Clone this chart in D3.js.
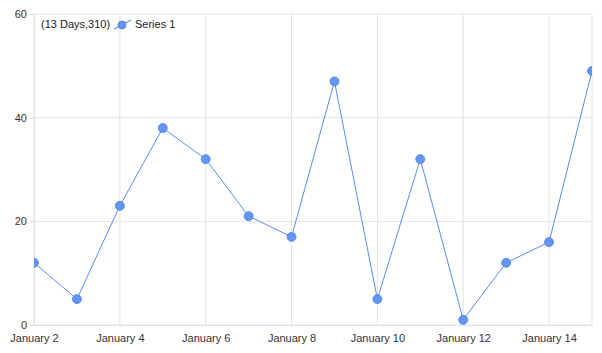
<!DOCTYPE html>
<html lang="en">
<head>
<meta charset="UTF-8">
<title>Series 1</title>
<script src="https://cdn.jsdelivr.net/npm/d3@7"></script>
<style>
    body{ margin: 0; background: #fff; }
    svg{ display: block; font-family: "Liberation Sans", Arial, sans-serif; }
</style>
</head>
<body>
<script>
    // data
    const days = ["2024-01-02","2024-01-03","2024-01-04","2024-01-05","2024-01-06","2024-01-07","2024-01-08",
                  "2024-01-09","2024-01-10","2024-01-11","2024-01-12","2024-01-13","2024-01-14","2024-01-15"]
    const values = [12, 5, 23, 38, 32, 21, 17, 47, 5, 32, 1, 12, 16, 49]
    const yTicks = [0, 20, 40, 60]
    const seriesName = "Series 1"

    const width = 602, height = 353
    const m = {top: 14, right: 10, bottom: 28, left: 34}
    const parse = d3.timeParse("%Y-%m-%d")
    const data = days.map((d, i) => ({date: parse(d), value: values[i]}))

    const svg = d3.select("body").append("svg")
        .attr("width", width).attr("height", height)

    const x = d3.scaleTime()
        .domain(d3.extent(data, d => d.date))
        .range([m.left, width - m.right])
    const y = d3.scaleLinear().domain([0, 60]).range([height - m.bottom, m.top])

    const xTicks = data.filter((d, i) => i % 2 == 0).map(d => d.date)

    // grid
    svg.append("g").selectAll("line").data(yTicks).join("line")
        .attr("x1", m.left).attr("x2", width - m.right)
        .attr("y1", d => y(d)).attr("y2", d => y(d))
        .attr("stroke", "#e3e3e3")
    svg.append("g").selectAll("line").data(xTicks.concat([x.domain()[1]])).join("line")
        .attr("x1", d => x(d)).attr("x2", d => x(d))
        .attr("y1", m.top).attr("y2", height - m.bottom)
        .attr("stroke", "#e3e3e3")

    // y axis
    const yAxis = svg.append("g").attr("transform", `translate(${m.left},0)`)
        .call(d3.axisLeft(y).tickValues(yTicks).tickSize(4).tickPadding(3))
    yAxis.select(".domain").attr("stroke", "#e3e3e3")
    yAxis.selectAll(".tick line").attr("stroke", "#d6d6d6")
    yAxis.selectAll("text").attr("font-size", 11).attr("fill", "#333").attr("font-family", "inherit")

    // x axis
    const xAxis = svg.append("g").attr("transform", `translate(0,${height - m.bottom})`)
        .call(d3.axisBottom(x).tickValues(xTicks).tickFormat(d3.timeFormat("%B %-d")).tickSize(0).tickPadding(9))
    xAxis.select(".domain").attr("stroke", "#e3e3e3")
    xAxis.selectAll("text").attr("font-size", 11).attr("fill", "#333").attr("font-family", "inherit")

    // clip for the series
    svg.append("clipPath").attr("id", "plot")
        .append("rect").attr("x", m.left).attr("y", m.top)
        .attr("width", width - m.left - m.right).attr("height", height - m.top - m.bottom)

    const gSeries = svg.append("g").attr("clip-path", "url(#plot)")
    gSeries.append("path").datum(data)
        .attr("fill", "none").attr("stroke", "#5b8def").attr("stroke-width", 1)
        .attr("d", d3.line().x(d => x(d.date)).y(d => y(d.value)))
    gSeries.selectAll("circle").data(data).join("circle")
        .attr("cx", d => x(d.date)).attr("cy", d => y(d.value)).attr("r", 4.5)
        .attr("fill", "#6196f2").attr("stroke", "#4f82e0").attr("stroke-width", 0.8)

    // legend
    const total = d3.sum(values)
    const legend = svg.append("g")
    legend.append("text").attr("x", 41).attr("y", 28).attr("font-size", 11).attr("fill", "#222")
        .text(`(${data.length - 1} Days,${total})`)
    legend.append("line").attr("x1", 114).attr("y1", 29).attr("x2", 131).attr("y2", 20)
        .attr("stroke", "#5b8def").attr("stroke-width", 1.2)
    legend.append("circle").attr("cx", 122).attr("cy", 25).attr("r", 4)
        .attr("fill", "#6196f2").attr("stroke", "#4f82e0").attr("stroke-width", 0.8)
    legend.append("text").attr("x", 135).attr("y", 28).attr("font-size", 11).attr("fill", "#222")
        .text(seriesName)
</script>
</body>
</html>
